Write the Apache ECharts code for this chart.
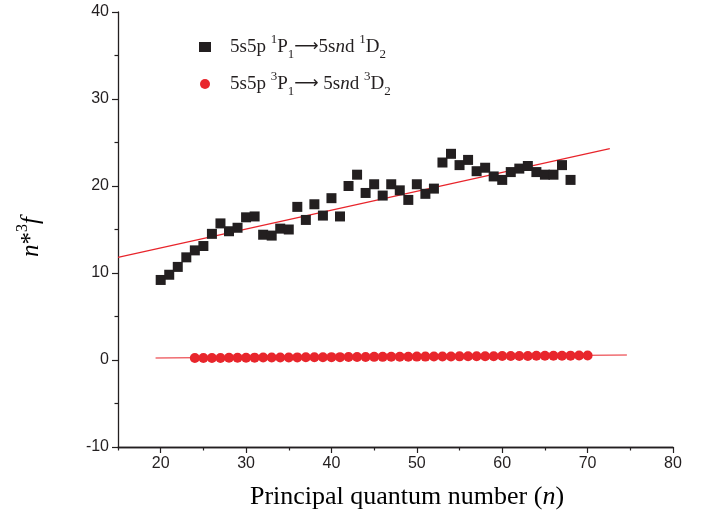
<!DOCTYPE html>
<html><head><meta charset="utf-8">
<script src="https://cdn.jsdelivr.net/npm/echarts@6/dist/echarts.min.js"></script>
<style>html,body{margin:0;padding:0;background:#fff}#c{width:708px;height:520px}</style>
</head><body><div id="c"></div>
<script>
const nBlack = [20,21,22,23,24,25,26,27,28,29,30,31,32,33,34,35,36,37,38,39,40,41,42,43,44,45,46,47,48,49,50,51,52,53,54,55,56,57,58,59,60,61,62,63,64,65,66,67,68];
const fBlack = [9.2,9.8,10.7,11.8,12.6,13.1,14.5,15.7,14.8,15.2,16.4,16.5,14.4,14.3,15.1,15.0,17.6,16.1,17.9,16.6,18.6,16.5,20.0,21.3,19.2,20.2,18.9,20.2,19.5,18.4,20.2,19.1,19.7,22.7,23.7,22.4,23.0,21.7,22.1,21.1,20.7,21.6,22.0,22.3,21.6,21.3,21.3,22.4,20.7];
const nRed = [24,25,26,27,28,29,30,31,32,33,34,35,36,37,38,39,40,41,42,43,44,45,46,47,48,49,50,51,52,53,54,55,56,57,58,59,60,61,62,63,64,65,66,67,68,69,70];
const fRed = [0.22,0.23,0.24,0.24,0.25,0.26,0.26,0.27,0.28,0.28,0.29,0.29,0.30,0.31,0.31,0.32,0.33,0.33,0.34,0.34,0.35,0.36,0.36,0.37,0.38,0.38,0.39,0.39,0.40,0.41,0.41,0.42,0.43,0.43,0.44,0.44,0.45,0.46,0.46,0.47,0.48,0.48,0.49,0.49,0.50,0.51,0.52];
const fitBlackX = [15, 72.6], fitBlackY = [11.8, 24.3];
const fitRedX = [19.4, 74.6], fitRedY = [0.23, 0.57];
const xMajor = [20,30,40,50,60,70,80];
const xMinor = [15,25,35,45,55,65,75];

const zip = (a,b) => a.map((v,i)=>[v,b[i]]);
const ink = '#231f20';
const serif = "'Liberation Serif','Times New Roman',serif";
const sans = "'Liberation Sans',Arial,sans-serif";
const rich = {
  m:{fontFamily:serif,fontSize:19,color:ink,lineHeight:28,verticalAlign:'middle'},
  i:{fontFamily:serif,fontSize:19,fontStyle:'italic',color:ink,lineHeight:28,verticalAlign:'middle'},
  a:{fontFamily:"'DejaVu Sans',sans-serif",fontSize:17,color:ink,lineHeight:28,verticalAlign:'middle'},
  sup:{fontFamily:serif,fontSize:13,color:ink,lineHeight:22,verticalAlign:'top'},
  sub:{fontFamily:serif,fontSize:13,color:ink,lineHeight:14,verticalAlign:'bottom'}
};
const legendText = {
  s1:'{m|5s5p }{sup|1}{m|P}{sub|1}{a|⟶}{m|5s}{i|n}{m|d }{sup|1}{m|D}{sub|2}',
  s2:'{m|5s5p }{sup|3}{m|P}{sub|1}{a|⟶}{m| 5s}{i|n}{m|d }{sup|3}{m|D}{sub|2}'
};
const chart = echarts.init(document.getElementById('c'), null, {renderer:'canvas'});
chart.setOption({
  animation:false,
  backgroundColor:'#fff',
  grid:{left:118,right:35,top:12,bottom:73,containLabel:false},
  legend:{
    orient:'vertical',left:194,top:28,itemGap:9,itemWidth:12,itemHeight:10,
    data:[{name:'s1',icon:'rect'},{name:'s2',icon:'circle'}],
    formatter:n=>legendText[n],
    textStyle:{rich:rich,padding:[0,0,0,14]}
  },
  xAxis:[{
    type:'value',min:15,max:80,position:'bottom',
    axisLine:{show:true,onZero:false,lineStyle:{color:ink,width:1.3}},
    axisTick:{show:true,customValues:xMajor,length:6,lineStyle:{color:ink,width:1.2}},
    axisLabel:{customValues:xMajor,margin:9,fontFamily:sans,fontSize:16,color:ink},
    splitLine:{show:false}
  },{
    type:'value',min:15,max:80,position:'bottom',offset:0,
    axisLine:{show:true,onZero:false,lineStyle:{color:ink,width:1.3}},
    axisTick:{show:true,customValues:xMinor,length:3.5,lineStyle:{color:ink,width:1.2}},
    axisLabel:{show:false},splitLine:{show:false}
  }],
  yAxis:{
    type:'value',min:-10,max:40,interval:10,
    axisLine:{show:true,onZero:false,lineStyle:{color:ink,width:1.3}},
    axisTick:{show:true,length:6,lineStyle:{color:ink,width:1.2}},
    minorTick:{show:true,splitNumber:2,length:3.5,lineStyle:{color:ink,width:1.2}},
    axisLabel:{margin:9,fontFamily:sans,fontSize:16,color:ink},
    splitLine:{show:false},minorSplitLine:{show:false}
  },
  graphic:[
    {type:'text',x:31,y:237,rotation:Math.PI/2,style:{
      text:'{i|n}{m|*}{s|3}{i|f}',align:'center',verticalAlign:'middle',
      rich:{i:{fontFamily:serif,fontStyle:'italic',fontSize:25,color:ink,lineHeight:32},
            m:{fontFamily:serif,fontSize:25,color:ink,lineHeight:32},
            s:{fontFamily:serif,fontSize:16,color:ink,lineHeight:26,verticalAlign:'top'}}}},
    {type:'text',x:407,y:497,style:{
      text:'{m|Principal quantum number (}{i|n}{m|)}',align:'center',verticalAlign:'middle',
      rich:{m:{fontFamily:serif,fontSize:26,color:ink},i:{fontFamily:serif,fontStyle:'italic',fontSize:26,color:ink}}}}
  ],
  series:[
    {name:'fitBlack',type:'line',data:zip(fitBlackX,fitBlackY),showSymbol:false,symbol:'none',
     lineStyle:{color:'#e8242b',width:1.1},z:1,silent:true},
    {name:'fitRed',type:'line',data:zip(fitRedX,fitRedY),showSymbol:false,symbol:'none',
     lineStyle:{color:'#e8242b',width:1.1},z:1,silent:true},
    {name:'s1',type:'scatter',data:zip(nBlack,fBlack),symbol:'rect',symbolSize:10,
     itemStyle:{color:'#231f20',opacity:1},z:3},
    {name:'s2',type:'scatter',data:zip(nRed,fRed),symbol:'circle',symbolSize:10,
     itemStyle:{color:'#e8262c',opacity:1},z:3}
  ]
});
</script></body></html>
